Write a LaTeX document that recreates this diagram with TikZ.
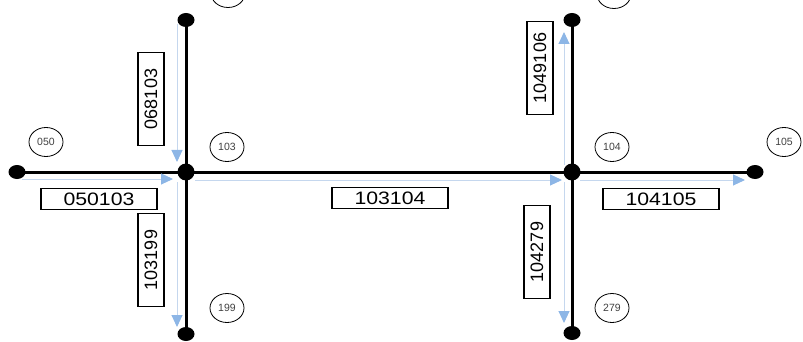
\documentclass[tikz,border=0pt]{standalone}
\usepackage{fontspec}
\setmainfont{Liberation Sans}
\newfontfamily\lblfont[FakeStretch=1.18]{Liberation Sans}
\usetikzlibrary{arrows.meta,shapes.geometric}
\definecolor{flow}{HTML}{8DB6E6}
\definecolor{flowline}{HTML}{C5D7EE}
\begin{document}
\begin{tikzpicture}[x=1pt,y=-1pt,
  road/.style={line width=3pt,black},
  enddot/.style={fill=black,ellipse,minimum width=17pt,minimum height=14pt,inner sep=0pt},
  jdot/.style={fill=black,circle,minimum size=17pt,inner sep=0pt},
  idtag/.style={draw,ellipse,line width=0.8pt,minimum width=34pt,minimum height=29pt,inner sep=0pt,font=\fontsize{10.5}{11}\selectfont,text=black!75},
  hbox/.style={draw,line width=1.4pt,fill=white,minimum width=116pt,minimum height=21pt,inner sep=0pt,font=\lblfont\fontsize{18}{18}\selectfont},
  vbox/.style={draw,line width=1.4pt,fill=white,rotate=90,minimum width=93pt,minimum height=26pt,inner sep=0pt,font=\fontsize{18}{18}\selectfont},
  flowarrow/.style={draw=flowline,line width=1pt,-{Triangle[length=12pt,width=11pt,color=flow]}}
]
\useasboundingbox (0,0) rectangle (803,342);

% junctions and end points
\node[enddot] (n050) at (17,172) {};
\node[jdot]   (j103) at (186,172) {};
\node[enddot] (n068) at (186,20) {};
\node[enddot] (n199) at (186,334) {};
\node[jdot]   (j104) at (572,172) {};
\node[enddot] (n106) at (572,20) {};
\node[enddot] (n279) at (572,333) {};
\node[enddot] (n105) at (755,172) {};

% roads
\draw[road] (n050.center) -- (j103.center) -- (j104.center) -- (n105.center);
\draw[road] (n068.center) -- (j103.center) -- (n199.center);
\draw[road] (n106.center) -- (j104.center) -- (n279.center);

% flow arrows
\coordinate (a1s) at (22,179);  \coordinate (a1e) at (173,179);
\coordinate (a2s) at (195,180); \coordinate (a2e) at (562,180);
\coordinate (a3s) at (580,180); \coordinate (a3e) at (745,180);
\coordinate (a4s) at (177,24);  \coordinate (a4e) at (177,162);
\coordinate (a5s) at (177,182); \coordinate (a5e) at (177,327);
\coordinate (a6s) at (564,165); \coordinate (a6e) at (564,32);
\coordinate (a7s) at (564,182); \coordinate (a7e) at (564,323);
\draw[flowarrow] (a1s) -- (a1e);
\draw[flowarrow] (a2s) -- (a2e);
\draw[flowarrow] (a3s) -- (a3e);
\draw[flowarrow] (a4s) -- (a4e);
\draw[flowarrow] (a5s) -- (a5e);
\draw[flowarrow] (a6s) -- (a6e);
\draw[flowarrow] (a7s) -- (a7e);

% link labels
\node[hbox] (l050103) at (99,199)  {050103};
\node[hbox] (l103104) at (390,198) {103104};
\node[hbox] (l104105) at (661,199) {104105};
\node[vbox] (l068103) at (151,99)  {068103};
\node[vbox] (l103199) at (151,260) {103199};
\node[vbox] (l104106) at (540,68)  {1049106};
\node[vbox] (l104279) at (537,252) {104279};

% node ids
\node[idtag] (c050) at (46,142)  {050};
\node[idtag] (c103) at (227,147) {103};
\node[idtag] (c199) at (227,308) {199};
\node[idtag] (c104) at (612,147) {104};
\node[idtag] (c279) at (612,308) {279};
\node[idtag] (c105) at (784,142) {105};
\node[idtag] (c068) at (228,-7)  {};
\node[idtag] (c106) at (614,-6)  {};
\end{tikzpicture}
\end{document}
